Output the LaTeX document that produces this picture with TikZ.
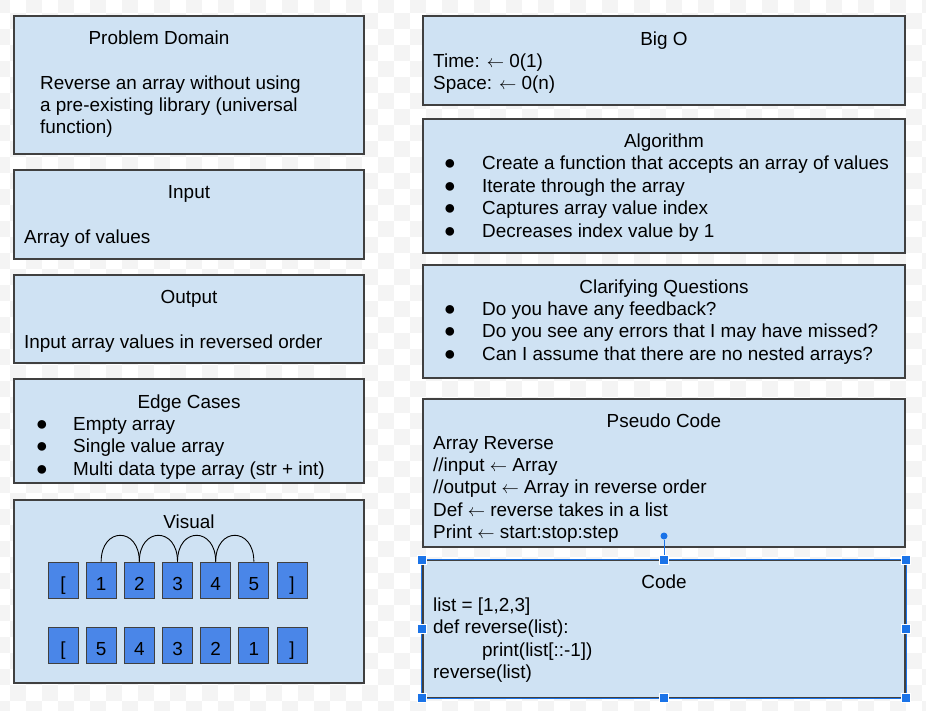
\documentclass[tikz,border=0pt]{standalone}
\usepackage{fontspec}
\setmainfont{Liberation Sans}
\usetikzlibrary{shadows}

\definecolor{panelblue}{HTML}{CFE2F3}
\definecolor{cellblue}{HTML}{4A86E8}
\definecolor{selblue}{HTML}{1A73E8}
\definecolor{edgegray}{HTML}{404040}
\definecolor{checkgray}{HTML}{F4F4F4}

\newcommand{\larr}{$\leftarrow$}

\tikzset{
  panel/.style={fill=panelblue, draw=edgegray, line width=1.1pt,
    drop shadow={shadow xshift=1.3pt, shadow yshift=-1.3pt, fill=gray!75, opacity=1}},
  txt/.style={font=\fontsize{18.9}{22.4}\selectfont, inner sep=0pt, anchor=base west},
  ttl/.style={txt, anchor=base},
  dot/.style={font=\fontsize{20}{20}\selectfont, inner sep=0pt, anchor=base},
  cell/.style={draw=edgegray, fill=cellblue, line width=0.9pt, minimum width=30pt,
    minimum height=36pt, inner sep=0pt, text height=20pt, text depth=0pt,
    font=\fontsize{18.9}{22.4}\selectfont},
  handle/.style={draw=white, fill=selblue, line width=0.7pt, minimum size=9pt, inner sep=0pt},
}

\begin{document}
\begin{tikzpicture}[x=1pt,y=-1pt]
\useasboundingbox (0,0) rectangle (926,710);

% Checker background
\begin{scope}
\clip (0,0) rectangle (926,710);
\foreach \i in {-1,...,43}{
  \pgfmathtruncatemacro{\js}{mod(\i+1,2)-1}
  \pgfmathtruncatemacro{\jn}{\js+2}
  \foreach \j in {\js,\jn,...,57}
    \fill[checkgray] ({10+16*\j},{13+16*\i}) rectangle +(16,16);
}
\end{scope}

% Left column
\draw[panel] (14,16) rectangle (364,154);
\node[ttl] (pdT) at (159,44) {Problem Domain};
\node[txt] (pd1) at (40,89) {Reverse an array without using};
\node[txt] (pd2) at (40,111) {a pre-existing library (universal};
\node[txt] (pd3) at (40,133) {function)};

\draw[panel] (14,170) rectangle (364,259);
\node[ttl] (inT) at (189,198) {Input};
\node[txt] (in1) at (24,243) {Array of values};

\draw[panel] (14,275) rectangle (364,363);
\node[ttl] (outT) at (189,303) {Output};
\node[txt] (out1) at (24,348) {Input array values in reversed order};

\draw[panel] (14,379) rectangle (364,483);
\node[ttl] (edT) at (189,408) {Edge Cases};
\foreach \t [count=\k] in {Empty array, Single value array, Multi data type array (str + int)} {
  \node[dot] (edB\k) at (42,{408+22.4*\k}) {●};
  \node[txt] (ed\k) at (73,{408+22.4*\k}) {\t};
}

% Visual
\draw[panel] (14,500) rectangle (364,683);
\node[ttl] (visT) at (189,528) {Visual};
\foreach \s [count=\k from 0] in {{[},1,2,3,4,5,{]}}
  \node[cell] (a\k) at ({63+38.17*\k},580) {\s};
\foreach \s [count=\k from 0] in {{[},5,4,3,2,1,{]}}
  \node[cell] (b\k) at ({63+38.17*\k},645) {\s};
\foreach \p/\q in {1/2,2/3,3/4,4/5}
  \draw[line width=0.9pt] (a\p.north) .. controls +(0,-35) and +(0,-35) .. (a\q.north);

% Right column
\draw[panel] (423,16) rectangle (905,105);
\node[ttl] (boT) at (664,45) {Big O};
\node[txt] (bo1) at (433,67) {Time: \larr{} 0(1)};
\node[txt] (bo2) at (433,89) {Space: \larr{} 0(n)};

\draw[panel] (423,119) rectangle (905,253);
\node[ttl] (alT) at (664,147) {Algorithm};
\foreach \t [count=\k] in {Create a function that accepts an array of values, Iterate through the array, Captures array value index, Decreases index value by 1} {
  \node[dot] (alB\k) at (450,{147+22.5*\k}) {●};
  \node[txt] (al\k) at (482,{147+22.5*\k}) {\t};
}

\draw[panel] (423,265) rectangle (905,378);
\node[ttl] (cqT) at (664,293) {Clarifying Questions};
\foreach \t [count=\k] in {Do you have any feedback?, Do you see any errors that I may have missed?, Can I assume that there are no nested arrays?} {
  \node[dot] (cqB\k) at (450,{293+22.4*\k}) {●};
  \node[txt] (cq\k) at (482,{293+22.4*\k}) {\t};
}

\draw[panel] (423,399) rectangle (905,547);
\node[ttl] (psT) at (664,427) {Pseudo Code};
\node[txt] (ps1) at (433,449) {Array Reverse};
\node[txt] (ps2) at (433,471) {//input \larr{} Array};
\node[txt] (ps3) at (433,493) {//output \larr{} Array in reverse order};
\node[txt] (ps4) at (433,516) {Def \larr{} reverse takes in a list};
\node[txt] (ps5) at (433,538) {Print \larr{} start:stop:step};

% Code (selected)
\draw[panel] (423,560) rectangle (905,698);
\draw[selblue, line width=1.3pt] (421.8,559.2) rectangle (906.2,698.8);
\node[ttl] (cdT) at (664,588) {Code};
\node[txt] (cd1) at (433,611) {list = [1,2,3]};
\node[txt] (cd2) at (433,633) {def reverse(list):};
\node[txt] (cd3) at (482,656) {print(list[::-1])};
\node[txt] (cd4) at (433,678) {reverse(list)};

\foreach \x/\y [count=\k] in {422/560,664/560,906/560,422/629,906/629,422/698,664/698,906/698}
  \node[handle] (h\k) at (\x,\y) {};
\node[circle, fill=selblue, inner sep=0pt, minimum size=7pt] (knob) at (664,536) {};
\draw[selblue, line width=1pt] (knob) -- (h2);
\end{tikzpicture}
\end{document}
